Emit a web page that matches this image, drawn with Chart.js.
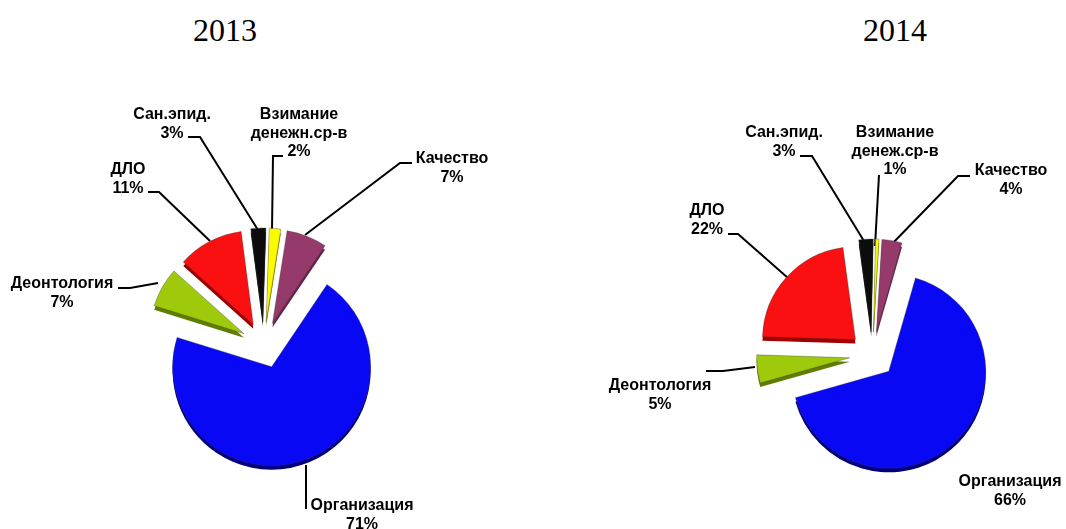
<!DOCTYPE html>
<html>
<head>
<meta charset="utf-8">
<script src="https://cdn.jsdelivr.net/npm/chart.js@4"></script>
<style>
    html, body { margin: 0; background: #fff; }
    canvas { position: absolute; top: 0; }
    .titulo { position: absolute; top: 12px; font: 32px "Liberation Serif", serif; transform: translateX(-50%); color: #000; }
</style>
</head>
<body>
<div class="titulo" style="left:225px">2013</div>
<div class="titulo" style="left:895px">2014</div>
<canvas id="pie2013" width="528" height="529" style="left:0"></canvas>
<canvas id="pie2014" width="538" height="529" style="left:528px"></canvas>
<script>
const categories = ['Организация', 'Деонтология', 'ДЛО', 'Сан.эпид.', 'Взимание', 'Качество'];
// they round to the printed percentages
const values2013 = [70.9, 6.9, 11.4, 2.6, 2, 7];
const values2014 = [66.3, 4.9, 22.4, 2.5, 0.6, 3.5];
const labels2013 = [['Организация', '71%'], ['Деонтология', '7%'], ['ДЛО', '11%'], ['Сан.эпид.', '3%'], ['Взимание', 'денежн.ср-в', '2%'], ['Качество', '7%']];
const labels2014 = [['Организация', '66%'], ['Деонтология', '5%'], ['ДЛО', '22%'], ['Сан.эпид.', '3%'], ['Взимание', 'денеж.ср-в', '1%'], ['Качество', '4%']];

const colors = ['#0808f4', '#9fca0c', '#fa1010', '#0c0c0c', '#fbfb00', '#963a6c'];
const sideColors = ['#000080', '#5f7d00', '#a00000', '#000000', '#8a8a00', '#66244a'];

// position of each text block (centre x, first baseline y) and its leader line, page pixels
const textPos2013 = [[362, 510], [62, 288], [128, 174], [172, 119], [299, 119], [452, 163]];
const leaders2013 = [
    [[306, 465], [306, 509]],
    [[118, 288], [130, 288], [158, 283]],
    [[148, 192], [159, 192], [210, 241]],
    [[188, 137], [200, 137], [258, 230]],
    [[283, 156], [273, 156], [272, 230]],
    [[412, 163], [400, 163], [305, 235]]
];
const textPos2014 = [[1010, 486], [660, 390], [707, 215], [784, 137], [895, 137], [1011, 175]];
const leaders2014 = [
    [],
    [[706, 371], [723, 371], [755, 367]],
    [[728, 234], [738, 234], [788, 278]],
    [[800, 156], [812, 156], [867, 246]],
    [[879, 175], [875, 246]],
    [[970, 176], [958, 176], [890, 246]]
];

const explode = 23;

// exploded slices with their side, labels and leader lines
const decorar = {
    id: 'decorar',
    beforeDatasetsDraw(chart, args, opts) {
        const ctx = chart.ctx;
        ctx.save();
        ctx.translate(-opts.left, 0);
        ctx.strokeStyle = '#000';
        ctx.lineWidth = 2;
        opts.leaders.forEach(line => {
            if (!line.length) return;
            ctx.beginPath();
            line.forEach((p, i) => i ? ctx.lineTo(p[0], p[1]) : ctx.moveTo(p[0], p[1]));
            ctx.stroke();
        });
        ctx.restore();

        const area = chart.chartArea;
        const cx = (area.left + area.right) / 2;
        const cy = (area.top + area.bottom) / 2;
        chart.getDatasetMeta(0).data.forEach((arc, i) => {
            // moved by hand: the offset option trims the angle of the small slices
            const mid = (arc.startAngle + arc.endAngle) / 2;
            arc.x = cx + Math.cos(mid) * explode;
            arc.y = cy + Math.sin(mid) * explode;
            arc.outerRadius = i === 0 ? opts.radius : opts.smallRadius;

            ctx.save();
            ctx.fillStyle = sideColors[i];
            ctx.beginPath();
            ctx.moveTo(arc.x, arc.y + 4);
            ctx.arc(arc.x, arc.y + 4, arc.outerRadius, arc.startAngle, arc.endAngle);
            ctx.closePath();
            ctx.fill();
            ctx.restore();
        });
    },
    afterDraw(chart, args, opts) {
        const ctx = chart.ctx;
        ctx.save();
        ctx.translate(-opts.left, 0);
        ctx.fillStyle = '#000';
        ctx.font = 'bold 16px "Liberation Sans", Arial, sans-serif';
        ctx.textAlign = 'center';
        opts.texts.forEach((lines, i) => {
            lines.forEach((t, j) => ctx.fillText(t, opts.pos[i][0], opts.pos[i][1] + j * 18.5));
        });
        ctx.restore();
    }
};

function crearPie(id, values, rotation, radius, smallRadius, padding, left, texts, pos, leaders) {
    return new Chart(document.getElementById(id), {
        type: 'pie',
        data: {
            labels: categories,
            datasets: [{
                data: values,
                backgroundColor: colors,
                borderColor: 'rgba(60,60,60,0.6)',
                borderWidth: 0.6,
                borderJoinStyle: 'miter',
                hoverOffset: 0,
                clip: false
            }]
        },
        options: {
            responsive: false,
            animation: false,
            rotation: rotation,
            radius: radius,
            layout: { padding: padding },
            plugins: {
                legend: { display: false },
                tooltip: { enabled: false },
                decorar: { left: left, radius: radius, smallRadius: smallRadius, texts: texts, pos: pos, leaders: leaders }
            }
        },
        plugins: [decorar]
    });
}

crearPie('pie2013', values2013, 34, 99, 94, { left: 0, top: 161 }, 0, labels2013, textPos2013, leaders2013);
crearPie('pie2014', values2014, 16, 97, 93, { left: 151, top: 181 }, 528, labels2014, textPos2014, leaders2014);
</script>
</body>
</html>
